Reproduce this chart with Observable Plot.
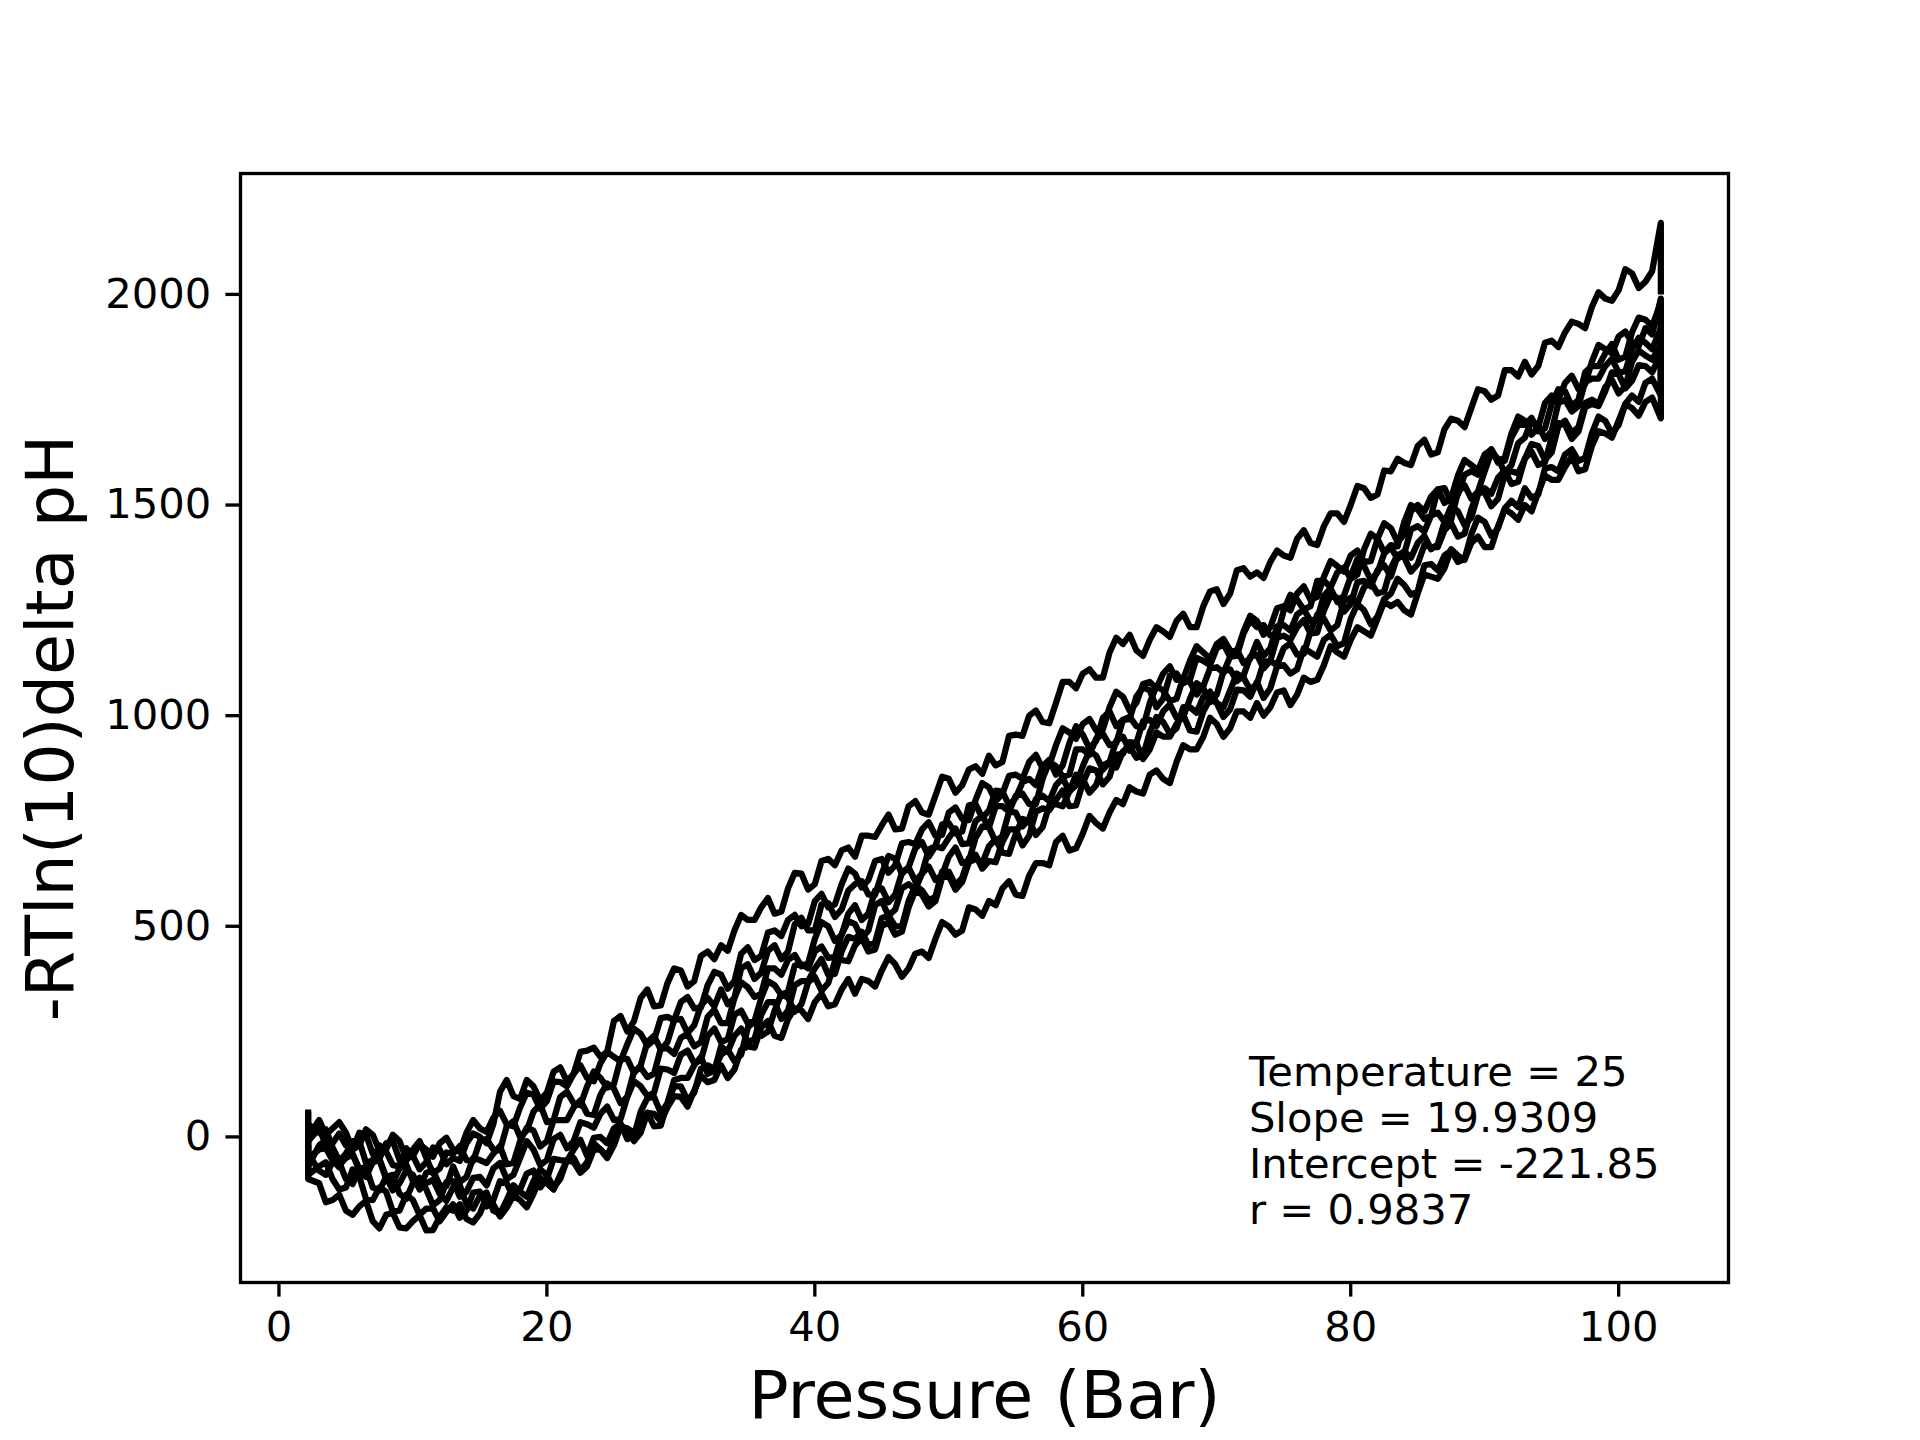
<!DOCTYPE html>
<html><head><meta charset="utf-8">
<script src="https://cdn.jsdelivr.net/npm/d3@7"></script>
<script src="https://cdn.jsdelivr.net/npm/@observablehq/plot@0.6"></script>
<style>body{margin:0;background:#fff} #chart svg{display:block}</style>
</head><body><div id="chart"></div>
<script>
// Pressure (Bar) sample points shared by all runs (repeated ends give the vertical strokes)
const pressure = [2.18, 2.18,
  3, 3.5, 4, 4.5, 5, 5.5, 6, 6.5, 7, 7.5, 8, 8.5, 9, 9.5, 10, 10.5, 11, 11.5, 12, 12.5,
  13, 13.5, 14, 14.5, 15, 15.5, 16, 16.5, 17, 17.5, 18, 18.5, 19, 19.5, 20, 20.5, 21, 21.5, 22, 22.5,
  23, 23.5, 24, 24.5, 25, 25.5, 26, 26.5, 27, 27.5, 28, 28.5, 29, 29.5, 30, 30.5, 31, 31.5, 32, 32.5,
  33, 33.5, 34, 34.5, 35, 35.5, 36, 36.5, 37, 37.5, 38, 38.5, 39, 39.5, 40, 40.5, 41, 41.5, 42, 42.5,
  43, 43.5, 44, 44.5, 45, 45.5, 46, 46.5, 47, 47.5, 48, 48.5, 49, 49.5, 50, 50.5, 51, 51.5, 52, 52.5,
  53, 53.5, 54, 54.5, 55, 55.5, 56, 56.5, 57, 57.5, 58, 58.5, 59, 59.5, 60, 60.5, 61, 61.5, 62, 62.5,
  63, 63.5, 64, 64.5, 65, 65.5, 66, 66.5, 67, 67.5, 68, 68.5, 69, 69.5, 70, 70.5, 71, 71.5, 72, 72.5,
  73, 73.5, 74, 74.5, 75, 75.5, 76, 76.5, 77, 77.5, 78, 78.5, 79, 79.5, 80, 80.5, 81, 81.5, 82, 82.5,
  83, 83.5, 84, 84.5, 85, 85.5, 86, 86.5, 87, 87.5, 88, 88.5, 89, 89.5, 90, 90.5, 91, 91.5, 92, 92.5,
  93, 93.5, 94, 94.5, 95, 95.5, 96, 96.5, 97, 97.5, 98, 98.5, 99, 99.5, 100, 100.5, 101, 101.5, 102, 102.5,
  103.15, 103.15];

const runA = [-40, 30,
  10, 18, -25, -57, -40, -10, -10, -62, -55, -20, -35, -67, -70, -27, -45, -77, -60, -25, -30, -65,
  -50, -57, -15, 8, 0, -15, 30, 107, 135, 97, 90, 135, 120, 87, 105, 155, 165, 132, 150, 202,
  205, 212, 190, 202, 275, 287, 250, 275, 330, 350, 310, 312, 365, 400, 395, 357, 370, 430, 440, 422,
  455, 442, 490, 527, 515, 515, 545, 567, 530, 535, 590, 627, 625, 587, 600, 655, 660, 645, 680, 687,
  665, 715, 715, 712, 740, 765, 730, 732, 785, 797, 770, 765, 810, 855, 850, 817, 835, 872, 880, 862,
  905, 882, 890, 952, 955, 952, 1000, 1012, 985, 982, 1030, 1080, 1080, 1065, 1100, 1110, 1090, 1090, 1150, 1185,
  1170, 1192, 1155, 1142, 1180, 1210, 1200, 1187, 1225, 1242, 1210, 1210, 1260, 1295, 1300, 1265, 1290, 1345, 1350, 1330,
  1340, 1327, 1365, 1392, 1380, 1375, 1420, 1440, 1410, 1405, 1450, 1480, 1480, 1460, 1500, 1545, 1540, 1517, 1525, 1582,
  1580, 1610, 1600, 1595, 1640, 1655, 1620, 1625, 1680, 1705, 1700, 1685, 1730, 1775, 1770, 1750, 1760, 1820, 1820, 1805,
  1840, 1810, 1830, 1885, 1890, 1875, 1910, 1935, 1930, 1920, 1970, 2005, 1990, 1985, 2010, 2060, 2050, 2015, 2030, 2055,
  2170, 2000];

const runB = [-60, -100,
  -110, -155, -150, -137, -175, -185, -165, -152, -200, -217, -185, -180, -215, -217, -200, -186, -222, -221, -190, -167,
  -175, -160, -195, -203, -182, -141, -160, -189, -168, -139, -150, -167, -135, -97, -110, -125, -90, -55, -50, -80,
  -60, -15, -30, -45, -10, 25, 20, -10, 10, 57, 55, 37, 70, 97, 95, 72, 110, 145, 130, 135,
  170, 140, 160, 207, 215, 212, 260, 275, 240, 235, 280, 305, 300, 280, 320, 340, 310, 315, 350, 375,
  340, 375, 370, 357, 395, 427, 410, 380, 400, 435, 440, 425, 470, 510, 500, 480, 490, 545, 540, 525,
  560, 550, 590, 607, 575, 572, 620, 650, 650, 645, 700, 715, 680, 685, 720, 762, 745, 732, 770, 800,
  790, 830, 820, 815, 860, 870, 850, 840, 890, 930, 920, 920, 950, 995, 980, 950, 970, 1010, 1010, 995,
  1030, 1000, 1020, 1055, 1060, 1025, 1050, 1090, 1080, 1085, 1120, 1165, 1150, 1140, 1180, 1210, 1200, 1190, 1230, 1270,
  1260, 1270, 1250, 1240, 1290, 1335, 1330, 1325, 1350, 1395, 1380, 1370, 1410, 1425, 1400, 1400, 1450, 1490, 1480, 1465,
  1500, 1485, 1530, 1570, 1560, 1560, 1590, 1615, 1580, 1585, 1640, 1675, 1670, 1660, 1700, 1740, 1730, 1712, 1745, 1755,
  1706, 1800];

const runC = [-20, -90,
  -70, -60, -100, -125, -120, -77, -95, -147, -150, -120, -130, -177, -175, -137, -150, -185, -170, -170, -200, -178,
  -160, -192, -175, -132, -130, -165, -150, -105, -110, -142, -125, -87, -80, -120, -100, -52, -55, -57, -30, -7,
  -45, -2, 0, -15, 20, 32, -5, 2, 60, 92, 95, 57, 80, 135, 140, 140, 170, 190, 150, 157,
  215, 202, 240, 257, 225, 232, 290, 320, 320, 280, 300, 360, 370, 370, 400, 422, 385, 387, 440, 475,
  470, 487, 455, 462, 520, 525, 500, 500, 560, 597, 585, 562, 570, 630, 630, 597, 615, 662, 670, 637,
  655, 652, 700, 730, 730, 692, 715, 772, 780, 775, 800, 822, 785, 787, 840, 875, 870, 837, 855, 907,
  910, 937, 935, 897, 920, 960, 950, 950, 980, 1002, 965, 962, 1010, 1040, 1030, 997, 1015, 1062, 1060, 1045,
  1080, 1042, 1065, 1117, 1120, 1100, 1110, 1160, 1150, 1140, 1180, 1192, 1165, 1172, 1230, 1265, 1250, 1217, 1235, 1277,
  1290, 1325, 1310, 1287, 1295, 1357, 1360, 1345, 1380, 1392, 1365, 1372, 1430, 1470, 1460, 1427, 1445, 1492, 1510, 1495,
  1540, 1517, 1525, 1587, 1590, 1580, 1620, 1632, 1605, 1612, 1670, 1710, 1700, 1670, 1690, 1740, 1760, 1745, 1790, 1800,
  1760, 1870];

const runD = [60, -10,
  20, -18, -15, 8, -20, -30, 10, 5, -40, -52, -15, -10, -55, -57, -30, -10, -50, -87, -75, -37,
  -40, -22, -55, -57, -10, -5, -30, -32, 25, 37, 0, 15, 60, 77, 35, 40, 95, 107, 80, 75,
  120, 155, 140, 117, 125, 185, 185, 152, 170, 225, 240, 207, 225, 277, 280, 247, 265, 312, 330, 310,
  350, 315, 330, 400, 410, 375, 390, 442, 455, 422, 440, 505, 520, 490, 490, 552, 555, 522, 540, 585,
  600, 607, 575, 575, 625, 667, 660, 625, 640, 685, 700, 665, 690, 742, 745, 720, 725, 787, 790, 757,
  775, 822, 820, 787, 805, 842, 850, 835, 880, 895, 860, 882, 935, 975, 955, 922, 940, 995, 1010, 975,
  990, 992, 1045, 1067, 1060, 1020, 1040, 1095, 1100, 1077, 1085, 1137, 1130, 1120, 1160, 1170, 1140, 1142, 1195, 1227,
  1210, 1215, 1190, 1190, 1250, 1287, 1275, 1252, 1260, 1320, 1320, 1305, 1340, 1352, 1325, 1335, 1395, 1432, 1420, 1387,
  1405, 1402, 1460, 1500, 1490, 1467, 1475, 1537, 1540, 1507, 1525, 1572, 1580, 1572, 1615, 1632, 1600, 1605, 1660, 1690,
  1690, 1707, 1675, 1682, 1740, 1775, 1770, 1735, 1750, 1815, 1830, 1830, 1860, 1882, 1845, 1852, 1910, 1945, 1940, 1925,
  1980, 1880];

const runE = [20, -50,
  -30, -27, -55, -72, -40, -40, -80, -95, -60, -55, -100, -107, -75, -65, -105, -120, -85, -80, -115, -117,
  -70, -107, -95, -50, -55, -62, -40, -22, -65, -62, -10, 22, 15, -23, -10, 40, 40, 40, 70, 87,
  55, 52, 100, 127, 115, 80, 95, 155, 165, 142, 150, 210, 210, 197, 235, 245, 215, 225, 285, 302,
  270, 270, 330, 367, 355, 332, 340, 400, 400, 385, 420, 432, 405, 412, 470, 510, 500, 465, 480, 530,
  550, 515, 530, 585, 590, 557, 575, 627, 640, 607, 625, 682, 690, 685, 710, 732, 695, 697, 750, 762,
  735, 785, 785, 772, 810, 815, 790, 790, 850, 890, 880, 855, 860, 920, 920, 907, 945, 957, 930, 935,
  990, 997, 975, 972, 1030, 1070, 1060, 1035, 1040, 1090, 1080, 1050, 1070, 1112, 1115, 1102, 1140, 1157, 1125, 1135,
  1175, 1142, 1160, 1212, 1215, 1202, 1240, 1252, 1225, 1230, 1285, 1302, 1270, 1285, 1330, 1372, 1355, 1322, 1340, 1385,
  1400, 1372, 1385, 1442, 1450, 1437, 1475, 1482, 1460, 1465, 1530, 1547, 1515, 1532, 1580, 1625, 1610, 1577, 1595, 1647,
  1660, 1700, 1690, 1657, 1675, 1742, 1750, 1722, 1735, 1792, 1800, 1800, 1830, 1847, 1815, 1817, 1870, 1897, 1885, 1870,
  1920, 1840];

const runF = [-100, -40,
  -80, -90, -60, -60, -100, -112, -75, -72, -120, -127, -95, -90, -135, -147, -110, -97, -125, -162, -150, -107,
  -105, -142, -130, -97, -95, -115, -75, -62, -100, -90, -50, -10, -30, -67, -55, -5, 5, -27, -10, 35,
  30, 22, 55, 72, 40, 42, 95, 132, 120, 97, 105, 162, 160, 152, 195, 205, 175, 182, 240, 257,
  225, 232, 290, 300, 270, 275, 330, 370, 360, 337, 345, 407, 410, 400, 440, 452, 425, 427, 480, 512,
  505, 472, 490, 550, 560, 525, 540, 590, 600, 587, 625, 642, 610, 622, 665, 687, 650, 655, 710, 737,
  735, 700, 715, 772, 770, 737, 755, 802, 810, 797, 835, 852, 820, 835, 880, 917, 905, 872, 890, 940,
  950, 917, 935, 987, 990, 975, 1010, 1027, 995, 997, 1040, 1077, 1065, 1032, 1050, 1105, 1110, 1082, 1095, 1140,
  1145, 1112, 1130, 1185, 1190, 1180, 1210, 1227, 1195, 1197, 1250, 1285, 1280, 1247, 1265, 1317, 1320, 1307, 1345, 1357,
  1330, 1380, 1390, 1375, 1410, 1427, 1395, 1407, 1460, 1497, 1485, 1452, 1470, 1525, 1540, 1527, 1565, 1582, 1550, 1555,
  1610, 1645, 1640, 1607, 1625, 1687, 1700, 1672, 1685, 1742, 1750, 1740, 1780, 1797, 1765, 1782, 1840, 1867, 1855, 1845,
  1880, 1800];

const runG = [10, -70,
  -20, -7, -35, -67, -50, -42, -75, -87, -60, -52, -95, -127, -110, -80, -90, -125, -110, -102, -135, -152,
  -120, -115, -160, -170, -140, -132, -175, -182, -150, -115, -130, -142, -105, -77, -90, -120, -100, -55, -60, -85,
  -70, -30, -30, -50, -20, 25, 20, 10, 40, 57, 25, 27, 80, 120, 120, 87, 105, 162, 170, 162,
  195, 207, 180, 195, 260, 275, 240, 250, 300, 340, 330, 297, 315, 367, 380, 347, 365, 417, 420, 417,
  455, 472, 440, 445, 500, 510, 480, 487, 545, 585, 575, 547, 560, 615, 620, 587, 605, 652, 660, 650,
  690, 707, 675, 672, 720, 755, 750, 717, 735, 787, 790, 785, 820, 860, 850, 817, 835, 882, 890, 877,
  915, 927, 900, 905, 960, 997, 985, 957, 970, 1020, 1020, 1007, 1045, 1057, 1030, 1020, 1060, 1100, 1090, 1062,
  1075, 1127, 1130, 1120, 1160, 1172, 1145, 1147, 1200, 1240, 1230, 1202, 1215, 1272, 1280, 1267, 1305, 1317, 1290, 1295,
  1350, 1382, 1375, 1342, 1360, 1405, 1400, 1400, 1440, 1457, 1425, 1432, 1490, 1530, 1530, 1497, 1515, 1572, 1580, 1575,
  1610, 1627, 1595, 1602, 1660, 1695, 1690, 1657, 1675, 1732, 1740, 1735, 1770, 1815, 1810, 1777, 1795, 1832, 1830, 1815,
  1860, 1780];

const runH = [65, 0,
  40, 5, 20, 35, 10, -30, -20, 18, 5, -32, -30, 5, -10, -52, -45, -17, -30, -47, -15, -2,
  -30, -35, 10, 40, 20, 12, 45, 62, 30, 25, 70, 105, 100, 67, 85, 132, 130, 120, 150, 170,
  140, 132, 175, 202, 190, 180, 220, 257, 245, 217, 230, 282, 285, 277, 320, 332, 305, 307, 360, 392,
  385, 352, 370, 435, 450, 420, 430, 485, 490, 477, 515, 527, 500, 505, 560, 577, 545, 552, 600, 637,
  625, 592, 610, 655, 660, 627, 645, 697, 700, 695, 730, 747, 715, 717, 770, 782, 755, 752, 800, 840,
  830, 797, 815, 857, 860, 850, 890, 907, 875, 882, 930, 970, 960, 945, 980, 992, 965, 967, 1020, 1057,
  1045, 1012, 1030, 1075, 1080, 1065, 1100, 1117, 1085, 1087, 1130, 1165, 1150, 1135, 1170, 1182, 1155, 1152, 1200, 1237,
  1225, 1192, 1210, 1255, 1260, 1250, 1290, 1307, 1275, 1282, 1330, 1367, 1355, 1342, 1380, 1392, 1365, 1367, 1420, 1457,
  1445, 1412, 1430, 1485, 1500, 1485, 1520, 1537, 1505, 1517, 1570, 1607, 1595, 1582, 1620, 1632, 1605, 1612, 1670, 1710,
  1700, 1667, 1685, 1742, 1760, 1750, 1790, 1807, 1775, 1787, 1840, 1880, 1870, 1860, 1900, 1912, 1885, 1877, 1920, 1905,
  1990, 1900];

const runNames = ["A", "B", "C", "D", "E", "F", "G", "H"];
const runs = [runA, runB, runC, runD, runE, runF, runG, runH];

const xTicks = [0, 20, 40, 60, 80, 100];
const yTicks = [0, 500, 1000, 1500, 2000];
const xLabel = "Pressure (Bar)";
const yLabel = "-RTln(10)delta pH";
const annotationLines = ["Temperature = 25", "Slope = 19.9309", "Intercept = -221.85", "r = 0.9837"];
const annotationX = 72.4;
const annotationY = -205.6;

const rows = [];
runs.forEach((vals, k) => vals.forEach((v, i) => {
  if (i < pressure.length) rows.push({run: runNames[k], p: pressure[i], v});
}));

const chart = Plot.plot({
  width: 1920,
  height: 1440,
  marginLeft: 240,
  marginRight: 192,
  marginTop: 173,
  marginBottom: 158,
  style: {fontFamily: "'DejaVu Sans', sans-serif", background: "white", color: "black"},
  x: {domain: [-2.87, 108.2]},
  y: {domain: [-345.6, 2287]},
  marks: [
    Plot.line(rows, {x: "p", y: "v", z: "run", stroke: "black", strokeWidth: 6.25, strokeLinejoin: "round", strokeLinecap: "butt"}),
    Plot.frame({stroke: "black", strokeWidth: 3.33}),
    Plot.axisX({ticks: xTicks, tickSize: 14.6, tickPadding: 14.6, fontSize: 41.7, strokeWidth: 3.33, label: null, tickFormat: d => String(d)}),
    Plot.axisY({ticks: yTicks, tickSize: 14.6, tickPadding: 14.6, fontSize: 41.7, strokeWidth: 3.33, label: null, tickFormat: d => String(d)}),
    Plot.text([xLabel], {frameAnchor: "bottom", textAnchor: "middle", lineAnchor: "bottom", dy: 135, fontSize: 66.7, fill: "black"}),
    Plot.text([yLabel], {frameAnchor: "left", rotate: -90, textAnchor: "middle", lineAnchor: "bottom", dx: -168, fontSize: 66.7, fill: "black"}),
    Plot.text([annotationLines.join("\n")], {x: annotationX, y: annotationY, textAnchor: "start", lineAnchor: "bottom", lineHeight: 1.103, fontSize: 41.7, fill: "black"})
  ]
});
document.getElementById("chart").appendChild(chart);
</script>
</body></html>
